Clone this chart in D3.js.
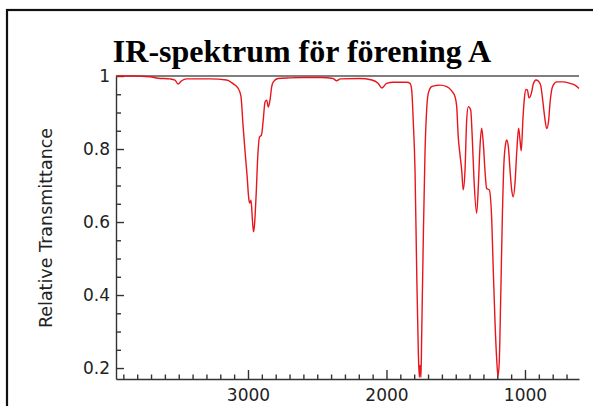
<!DOCTYPE html>
<html>
<head>
<meta charset="utf-8">
<script src="https://d3js.org/d3.v7.min.js"></script>
<style>
  body { margin: 0; background: #fff; }
  .axis path, .axis line { stroke: #333; }
  .axis text { font-family: "DejaVu Sans", sans-serif; font-size: 17px; fill: #222; }
</style>
</head>
<body>
<svg id="chart" width="593" height="406"></svg>
<script>
// wavenumber (cm^-1)
const wavenumber = [3953, 3830, 3708, 3650, 3563, 3527, 3505, 3479, 3443, 3274,
  3154, 3108, 3072, 3051, 3036, 3022, 3007, 2993, 2986, 2978,
  2968, 2960, 2953, 2942, 2928, 2917, 2903, 2890, 2877, 2865,
  2853, 2841, 2829, 2817, 2783, 2697, 2606, 2469, 2386, 2360,
  2333, 2196, 2105, 2061, 2033, 1999, 1951, 1854, 1830, 1818,
  1807, 1794, 1782, 1770, 1763, 1758, 1751, 1746, 1734, 1722,
  1710, 1698, 1674, 1643, 1614, 1565, 1529, 1505, 1493, 1482,
  1469, 1457, 1446, 1433, 1421, 1409, 1392, 1381, 1368, 1349,
  1337, 1325, 1313, 1301, 1289, 1277, 1258, 1240, 1229, 1217,
  1204, 1195, 1186, 1176, 1164, 1152, 1139, 1132, 1120, 1108,
  1096, 1085, 1072, 1060, 1046, 1036, 1027, 1014, 1004, 993,
  983, 971, 955, 940, 921, 904, 887, 872, 858, 843,
  829, 820, 807, 796, 771, 724, 675, 639, 610];
// relative transmittance at each wavenumber
const transmittance = [1.0, 1.0, 0.998, 0.994, 0.992, 0.989, 0.978, 0.987, 0.992, 0.992,
  0.989, 0.979, 0.967, 0.945, 0.866, 0.797, 0.729, 0.660, 0.652, 0.660,
  0.605, 0.573, 0.592, 0.668, 0.789, 0.833, 0.838, 0.879, 0.929, 0.934,
  0.915, 0.934, 0.970, 0.984, 0.993, 0.995, 0.996, 0.996, 0.993, 0.987,
  0.992, 0.993, 0.989, 0.980, 0.967, 0.980, 0.983, 0.983, 0.980, 0.962,
  0.879, 0.742, 0.468, 0.241, 0.175, 0.208, 0.175, 0.285, 0.559, 0.789,
  0.907, 0.953, 0.971, 0.974, 0.975, 0.971, 0.959, 0.943, 0.916, 0.834,
  0.784, 0.742, 0.688, 0.742, 0.879, 0.916, 0.907, 0.834, 0.715, 0.624,
  0.697, 0.806, 0.857, 0.816, 0.742, 0.692, 0.688, 0.605, 0.468, 0.332,
  0.222, 0.178, 0.214, 0.378, 0.605, 0.762, 0.816, 0.825, 0.806, 0.742,
  0.688, 0.669, 0.707, 0.789, 0.857, 0.825, 0.795, 0.888, 0.940, 0.963,
  0.962, 0.940, 0.951, 0.978, 0.989, 0.986, 0.975, 0.934, 0.888, 0.856,
  0.879, 0.923, 0.962, 0.975, 0.984, 0.984, 0.980, 0.975, 0.966];

const xMajorTicks = [3000, 2000, 1000];
const xMinorTicks = [3900, 3800, 3700, 3600, 3500, 3400, 3300, 3200, 3100,
  2900, 2800, 2700, 2600, 2500, 2400, 2300, 2200, 2100,
  1900, 1800, 1700, 1600, 1500, 1400, 1300, 1200, 1100,
  900, 800, 700];
const yMajorTicks = [0.2, 0.4, 0.6, 0.8, 1];
const yMinorTicks = [0.25, 0.3, 0.35, 0.45, 0.5, 0.55, 0.65, 0.7, 0.75, 0.85, 0.9, 0.95];

const titleText = "IR-spektrum för förening A";
const yLabel = "Relative Transmittance";

const svg = d3.select("#chart");
const margin = {left: 116, right: 14, top: 76, bottom: 27};
const width = +svg.attr("width"), height = +svg.attr("height");

const data = wavenumber.map((w, i) => ({w: w, t: transmittance[i]}));

const x = d3.scaleLinear().domain([3953, 610]).range([margin.left, width - margin.right]);
const y = d3.scaleLinear().domain([0.17, 1]).range([height - margin.bottom, margin.top]);

// outer frame (runs off the right and bottom edges)
svg.append("rect")
  .attr("x", 7).attr("y", 10)
  .attr("width", 700).attr("height", 500)
  .attr("fill", "none").attr("stroke", "#111").attr("stroke-width", 2.2);

// title
svg.append("text")
  .attr("x", 302).attr("y", 62)
  .attr("text-anchor", "middle")
  .style("font-family", "'Liberation Serif', 'Times New Roman', serif")
  .style("font-weight", "bold")
  .style("font-size", "32px")
  .text(titleText);

// top spine
svg.append("line")
  .attr("x1", x.range()[0]).attr("x2", x.range()[1])
  .attr("y1", y(1)).attr("y2", y(1))
  .attr("stroke", "#555").attr("stroke-width", 1.3);

// y axis
svg.append("g").attr("class", "axis")
  .attr("transform", "translate(" + margin.left + ",0)")
  .call(d3.axisLeft(y).tickValues(yMajorTicks)
    .tickFormat(d => d === 1 ? "1" : d3.format(".1f")(d))
    .tickSizeInner(-8).tickSizeOuter(0).tickPadding(6));
svg.append("g").attr("class", "axis")
  .attr("transform", "translate(" + margin.left + ",0)")
  .call(d3.axisLeft(y).tickValues(yMinorTicks).tickFormat("")
    .tickSizeInner(-5).tickSizeOuter(0))
  .select(".domain").remove();

// x axis
svg.append("g").attr("class", "axis")
  .attr("transform", "translate(0," + y.range()[0] + ")")
  .call(d3.axisBottom(x).tickValues(xMajorTicks).tickFormat(d3.format("d"))
    .tickSizeInner(-9).tickSizeOuter(0).tickPadding(10));
svg.append("g").attr("class", "axis")
  .attr("transform", "translate(0," + y.range()[0] + ")")
  .call(d3.axisBottom(x).tickValues(xMinorTicks).tickFormat("")
    .tickSizeInner(-4.5).tickSizeOuter(0))
  .select(".domain").remove();

svg.selectAll(".axis path, .axis line").attr("stroke-width", 1.4);

// y label
svg.append("text")
  .attr("transform", "translate(52,228) rotate(-90)")
  .attr("text-anchor", "middle")
  .style("font-family", "'DejaVu Sans', sans-serif")
  .style("font-size", "17.5px")
  .style("fill", "#222")
  .text(yLabel);

// spectrum
const line = d3.line().x(d => x(d.w)).y(d => y(d.t)).curve(d3.curveMonotoneX);
svg.append("path")
  .datum(data)
  .attr("d", line)
  .attr("fill", "none")
  .attr("stroke", "#e8161c")
  .attr("stroke-width", 1.4);
</script>
</body>
</html>
